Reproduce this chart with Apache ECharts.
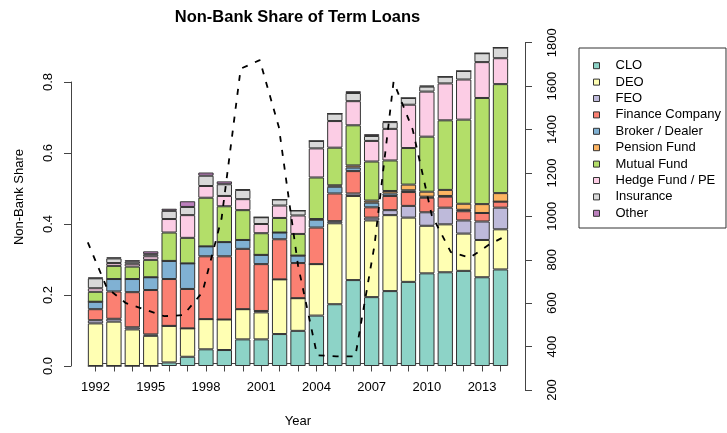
<!DOCTYPE html>
<html>
<head>
<meta charset="utf-8">
<script src="https://cdn.jsdelivr.net/npm/echarts@6/dist/echarts.min.js"></script>
<style>
html, body { margin: 0; padding: 0; background: #fff; }
#chart { width: 727px; height: 433px; }
</style>
</head>
<body>
<div id="chart"></div>
<script>
var years = ['1992', '1993', '1994', '1995', '1996', '1997', '1998', '1999', '2000', '2001', '2002', '2003',
    '2004', '2005', '2006', '2007', '2008', '2009', '2010', '2011', '2012', '2013', '2014'];

// share of term loans held by each non-bank type (stacked bottom -> top)
var clo       = [0, 0, 0, 0, 0.010, 0.026, 0.047, 0.045, 0.075, 0.075, 0.090, 0.099, 0.142, 0.174, 0.242, 0.194, 0.211, 0.237, 0.261, 0.264, 0.268, 0.250, 0.272];
var deo       = [0.120, 0.125, 0.103, 0.085, 0.103, 0.080, 0.085, 0.086, 0.085, 0.076, 0.154, 0.092, 0.145, 0.228, 0.237, 0.216, 0.214, 0.181, 0.134, 0.135, 0.105, 0.105, 0.113];
var feo       = [0.009, 0.008, 0.006, 0.004, 0, 0, 0, 0, 0, 0.004, 0, 0, 0, 0.006, 0.007, 0.008, 0.014, 0.033, 0.038, 0.047, 0.037, 0.052, 0.061];
var financeCo = [0.031, 0.077, 0.099, 0.125, 0.132, 0.111, 0.177, 0.178, 0.170, 0.132, 0.113, 0.099, 0.103, 0.078, 0.063, 0.029, 0.040, 0.039, 0.041, 0.031, 0.026, 0.024, 0.017];
var broker    = [0.021, 0.035, 0.037, 0.036, 0.051, 0.072, 0.028, 0.040, 0.025, 0.026, 0.019, 0.021, 0.022, 0.019, 0.010, 0.013, 0.007, 0.005, 0.003, 0.002, 0.004, 0, 0];
var pension   = [0, 0, 0, 0, 0, 0, 0, 0, 0, 0, 0, 0, 0.002, 0.004, 0.006, 0.006, 0.007, 0.016, 0.014, 0.017, 0.017, 0.025, 0.024];
var mutual    = [0.028, 0.037, 0.035, 0.049, 0.080, 0.072, 0.137, 0.101, 0.084, 0.061, 0.041, 0.061, 0.117, 0.106, 0.113, 0.110, 0.086, 0.103, 0.155, 0.196, 0.237, 0.299, 0.307];
var hedge     = [0.010, 0.008, 0.008, 0.010, 0.038, 0.064, 0.033, 0.029, 0.031, 0.026, 0.035, 0.052, 0.082, 0.075, 0.068, 0.058, 0.089, 0.122, 0.127, 0.104, 0.113, 0.101, 0.073];
var insurance = [0.028, 0.013, 0.006, 0.006, 0.023, 0.023, 0.029, 0.033, 0.026, 0.019, 0.017, 0.014, 0.021, 0.021, 0.023, 0.014, 0.019, 0.019, 0.014, 0.019, 0.024, 0.025, 0.030];
var other     = [0.002, 0.003, 0.004, 0.008, 0.006, 0.016, 0.009, 0.008, 0.002, 0, 0, 0, 0, 0, 0.005, 0.005, 0.003, 0, 0.003, 0, 0, 0, 0];

// dashed line, right axis
var volume = [880, 670, 600, 570, 540, 545, 650, 990, 1680, 1720, 1410, 775, 360, 355, 355, 865, 1620, 1400, 1005, 835, 810, 870, 915];

var names = ['CLO', 'DEO', 'FEO', 'Finance Company', 'Broker / Dealer', 'Pension Fund', 'Mutual Fund', 'Hedge Fund / PE', 'Insurance', 'Other'];
var stacks = [clo, deo, feo, financeCo, broker, pension, mutual, hedge, insurance, other];
var colors = ['#8DD3C7', '#FFFFB3', '#BEBADA', '#FB8072', '#80B1D3', '#FDB462', '#B3DE69', '#FCCDE5', '#D9D9D9', '#BC80BD'];

var font = 'Liberation Sans, Arial, sans-serif';
var axisColor = '#444';

var series = names.map(function(n, i) {
    return {
        name: n,
        type: 'bar',
        stack: 'share',
        xAxisIndex: 0,
        yAxisIndex: 0,
        barWidth: 15.3,
        clip: false,
        itemStyle: { color: colors[i], borderColor: '#333', borderWidth: 1 },
        data: stacks[i]
    };
});
series.push({
    name: 'Volume',
    type: 'line',
    xAxisIndex: 1,
    yAxisIndex: 1,
    symbol: 'none',
    z: 5,
    lineStyle: { color: '#000', width: 1.8, type: [6, 8] },
    data: volume
});

var myChart = echarts.init(document.getElementById('chart'));
var option = {
    animation: false,
    backgroundColor: '#fff',
    textStyle: { fontFamily: font },
    title: {
        text: 'Non-Bank Share of Term Loans',
        left: 297.5,
        top: 8.5,
        padding: 0,
        textAlign: 'center',
        textStyle: { fontSize: 16.5, fontWeight: 'bold', color: '#000', fontFamily: font }
    },
    legend: {
        data: names,
        orient: 'vertical',
        left: 579,
        top: 48,
        padding: [9.5, 5, 6.5, 14],
        itemWidth: 6,
        itemHeight: 6,
        itemGap: 0,
        icon: 'rect',
        borderColor: '#333',
        borderWidth: 1,
        itemStyle: { borderColor: '#333', borderWidth: 1 },
        textStyle: { fontSize: 13, color: '#000', lineHeight: 16.4, padding: [0, 0, 0, 11], fontFamily: font }
    },
    grid: [
        { left: 86.3, right: 217.3, top: 82, bottom: 67 },
        { left: 87.8, right: 218.8, top: 42.7, bottom: 43 },
        { left: 95.5, right: 226.5, top: 82, bottom: 64 }
    ],
    xAxis: [
        { gridIndex: 0, type: 'category', data: years, show: false },
        { gridIndex: 1, type: 'category', data: years, boundaryGap: false, show: false },
        {
            gridIndex: 2,
            type: 'category',
            data: years,
            boundaryGap: false,
            axisLine: { lineStyle: { color: axisColor } },
            axisTick: { interval: 0, length: 8, lineStyle: { color: axisColor } },
            axisLabel: { interval: 2, fontSize: 13, color: '#000', margin: 17 },
            name: 'Year',
            nameLocation: 'middle',
            nameGap: 51.5,
            nameTextStyle: { fontSize: 13, color: '#000' }
        }
    ],
    yAxis: [
        {
            gridIndex: 0,
            type: 'value',
            min: 0,
            max: 0.8,
            interval: 0.2,
            position: 'left',
            offset: 15.3,
            splitLine: { show: false },
            axisLine: { show: true, lineStyle: { color: axisColor } },
            axisTick: { show: true, length: 7, lineStyle: { color: axisColor } },
            axisLabel: {
                rotate: 90, fontSize: 13, color: '#000', margin: 16,
                formatter: function(v) { return v.toFixed(1); }
            },
            name: 'Non-Bank Share',
            nameLocation: 'middle',
            nameGap: 45.5,
            nameTextStyle: { fontSize: 13, color: '#000', padding: [0, 0, 0, 54] }
        },
        {
            gridIndex: 1,
            type: 'value',
            min: 200,
            max: 1800,
            interval: 200,
            position: 'right',
            offset: 16.8,
            splitLine: { show: false },
            axisLine: { show: true, lineStyle: { color: axisColor } },
            axisTick: { show: true, length: 7, lineStyle: { color: axisColor } },
            axisLabel: {
                rotate: 90, fontSize: 13, color: '#000', margin: 21,
                formatter: function(v) { return String(v); }
            }
        },
        { gridIndex: 2, type: 'value', show: false }
    ],
    series: series
};
myChart.setOption(option);
</script>
</body>
</html>
